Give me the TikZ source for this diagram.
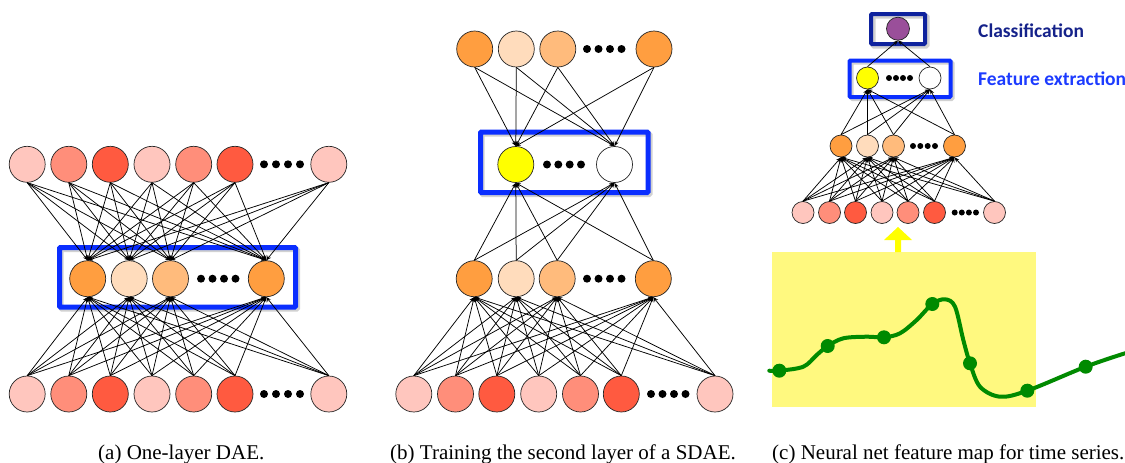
\documentclass[tikz,border=0pt]{standalone}
\usepackage{fontspec}
\setmainfont{Liberation Serif}
\newfontfamily\labelfont{Carlito}
\usetikzlibrary{arrows.meta}

\definecolor{npink}{HTML}{FFC6BE}
\definecolor{nsalmon}{HTML}{FF8E7A}
\definecolor{nred}{HTML}{FF5A40}
\definecolor{norange}{HTML}{FF9E40}
\definecolor{npeach}{HTML}{FFDCBC}
\definecolor{nlorange}{HTML}{FFBB7C}
\definecolor{nyellow}{HTML}{FFFF00}
\definecolor{npurple}{HTML}{9A4F9A}
\definecolor{boxblue}{HTML}{0A2EFF}
\definecolor{boxnavy}{HTML}{0F239E}
\definecolor{txtnavy}{HTML}{15228A}
\definecolor{txtblue}{HTML}{1C3BFF}
\definecolor{padyellow}{HTML}{FFF97F}
\definecolor{seriesgreen}{HTML}{008A00}

\tikzset{
  neuron/.style={circle, draw=black!85, line width=0.7pt, inner sep=0pt},
  bigunit/.style={neuron, minimum size=36pt},
  smallunit/.style={neuron, minimum size=22pt},
  link/.style={-{Stealth[length=5pt,width=4pt]}, line width=0.75pt},
  layerbox/.style={draw=boxblue, line width=5pt, rounded corners=1pt},
  boxshade/.style={draw=black, opacity=0.18, line width=5pt, rounded corners=1pt},
  bigdot/.style={circle, fill=black, inner sep=0pt, minimum size=8pt},
  smalldot/.style={circle, fill=black, inner sep=0pt, minimum size=6pt},
  caption/.style={anchor=base west, inner sep=0pt, font=\fontsize{21}{24}\selectfont},
  tag/.style={anchor=base west, inner sep=0pt, font=\labelfont\bfseries\fontsize{19.5}{22}\selectfont},
}

\begin{document}
\begin{tikzpicture}[x=1pt, y=-1pt]
\useasboundingbox (0,0) rectangle (1125,463);

% ---------------- (a) one-layer DAE ----------------
\draw[boxshade] (61,249.5) rectangle (297.5,309);
\draw[layerbox] (59.5,247.5) rectangle (295.5,307);

\foreach \x/\c [count=\i] in {27.2/npink, 68.8/nsalmon, 110.3/nred, 152/npink, 193.7/nsalmon, 235/nred, 328.8/npink}
  \node[bigunit, fill=\c] (at\i) at (\x,164.3) {};
\foreach \x/\c [count=\i] in {87.7/norange, 129.2/npeach, 170.5/nlorange, 266.3/norange}
  \node[bigunit, fill=\c] (am\i) at (\x,278.7) {};
\foreach \x/\c [count=\i] in {27.2/npink, 68.8/nsalmon, 110.3/nred, 152/npink, 193.7/nsalmon, 235/nred, 328.8/npink}
  \node[bigunit, fill=\c] (ab\i) at (\x,394) {};

\foreach \x [count=\i] in {264,276,288,300} {
  \node[bigdot] (atd\i) at (\x,164.3) {};
  \node[bigdot] (abd\i) at (\x,394) {};
}
\foreach \x [count=\i] in {201,212.5,224,235.5}
  \node[bigdot] (amd\i) at (\x,278.7) {};

\foreach \i in {1,...,7}
  \foreach \j in {1,...,4} {
    \draw[link] (at\i.south) -- (am\j.north);
    \draw[link] (ab\i.north) -- (am\j.south);
  }

% ---------------- (b) second layer of a SDAE ----------------
\draw[boxshade] (482,134) rectangle (650,194.5);
\draw[layerbox] (480.5,132) rectangle (648,192.5);

\foreach \x/\c [count=\i] in {474.7/norange, 516.3/npeach, 557.8/nlorange, 654/norange}
  \node[bigunit, fill=\c] (bt\i) at (\x,49) {};
\foreach \x/\c [count=\i] in {515.8/nyellow, 614.5/white}
  \node[bigunit, fill=\c] (bh\i) at (\x,164.5) {};
\foreach \x/\c [count=\i] in {474.2/norange, 516.2/npeach, 557.2/nlorange, 653.3/norange}
  \node[bigunit, fill=\c] (bm\i) at (\x,278.7) {};
\foreach \x/\c [count=\i] in {413.8/npink, 455.5/nsalmon, 496.8/nred, 538.7/npink, 580.5/nsalmon, 621.3/nred, 715/npink}
  \node[bigunit, fill=\c] (bb\i) at (\x,394) {};

\foreach \x [count=\i] in {587,598.5,610,621.5} {
  \node[bigdot] (btd\i) at (\x,49) {};
  \node[bigdot] (bmd\i) at (\x,278.7) {};
}
\foreach \x [count=\i] in {547,558.3,569.7,581}
  \node[bigdot] (bhd\i) at (\x,164.5) {};
\foreach \x [count=\i] in {651,662.5,674,685.5}
  \node[bigdot] (bbd\i) at (\x,394) {};

\foreach \i in {1,...,4}
  \foreach \j in {1,2} {
    \draw[link] (bt\i.south) -- (bh\j.north);
    \draw[link] (bm\i.north) -- (bh\j.south);
  }
\foreach \i in {1,...,7}
  \foreach \j in {1,...,4}
    \draw[link] (bb\i.north) -- (bm\j.south);

% ---------------- (c) feature map for time series ----------------
\fill[padyellow] (772,252) rectangle (1036,407);

\draw[seriesgreen, line width=4pt, line cap=round]
  plot[smooth, tension=0.55] coordinates {
    (769.3,370.7) (779.3,370.7) (803.3,366.7) (816.7,355) (827.7,346)
    (843.3,338.3) (866.7,336.7) (884,337.3) (900,333.3) (916.7,320)
    (932.3,304) (945,299.3) (955,306.7) (963.3,340) (970,363.3)
    (980,386.7) (1000,396.7) (1027.3,390.7) (1085.7,366.7) (1125,353.3)};
\foreach \x/\y [count=\i] in {779.3/370.7, 827.7/346, 884/337.3, 932.3/304, 970/363.3, 1027.3/390.7, 1085.7/366.7}
  \fill[seriesgreen] (\x,\y) circle[radius=7pt] coordinate (s\i);

% upward arrow from the series to the network
\fill[nyellow] (895,252) -- (895,240) -- (884,240) -- (898,227) -- (912,240) -- (901,240) -- (901,252) -- cycle;

\draw[boxshade] (873,16) rectangle (927,46);
\draw[layerbox, draw=boxnavy, line width=4pt] (871,14) rectangle (925,44);
\draw[boxshade, line width=4pt] (851.5,62.5) rectangle (952.5,99);
\draw[layerbox, line width=4pt] (849.5,60.5) rectangle (950.5,97);

\node[smallunit, fill=npurple, minimum size=23pt] (cc) at (898,28.7) {};
\foreach \x/\c [count=\i] in {867.5/nyellow, 930/white}
  \node[smallunit, fill=\c] (cf\i) at (\x,78) {};
\foreach \x/\c [count=\i] in {841/norange, 867.5/npeach, 893.5/nlorange, 954.5/norange}
  \node[smallunit, fill=\c] (cm\i) at (\x,146) {};
\foreach \x/\c [count=\i] in {803/npink, 829.5/nsalmon, 855.5/nred, 882/npink, 908/nsalmon, 934.5/nred, 994.5/npink}
  \node[smallunit, fill=\c] (cb\i) at (\x,212.5) {};

\foreach \x [count=\i] in {889,896,903,910}
  \node[smalldot] (cfd\i) at (\x,78) {};
\foreach \x [count=\i] in {913,920.3,927.7,935}
  \node[smalldot] (cmd\i) at (\x,146) {};
\foreach \x [count=\i] in {954.7,961.8,968.9,976}
  \node[smalldot] (cbd\i) at (\x,212.5) {};

\foreach \j in {1,2}
  \draw[link] (cf\j.north) -- (cc.south);
\foreach \i in {1,...,4}
  \foreach \j in {1,2}
    \draw[link] (cm\i.north) -- (cf\j.south);
\foreach \i in {1,...,7}
  \foreach \j in {1,...,4}
    \draw[link] (cb\i.north) -- (cm\j.south);

\node[tag, text=txtnavy] (tcls) at (978,37.3) {Classification};
\node[tag, text=txtblue] (tfeat) at (978,85) {Feature extraction};

% ---------------- captions ----------------
\node[caption] (capa) at (98,459.5) {(a) One-layer DAE.};
\node[caption] (capb) at (390,459.5) {(b) Training the second layer of a SDAE.};
\node[caption] (capc) at (772,459.5) {(c) Neural net feature map for time series.};
\end{tikzpicture}
\end{document}
